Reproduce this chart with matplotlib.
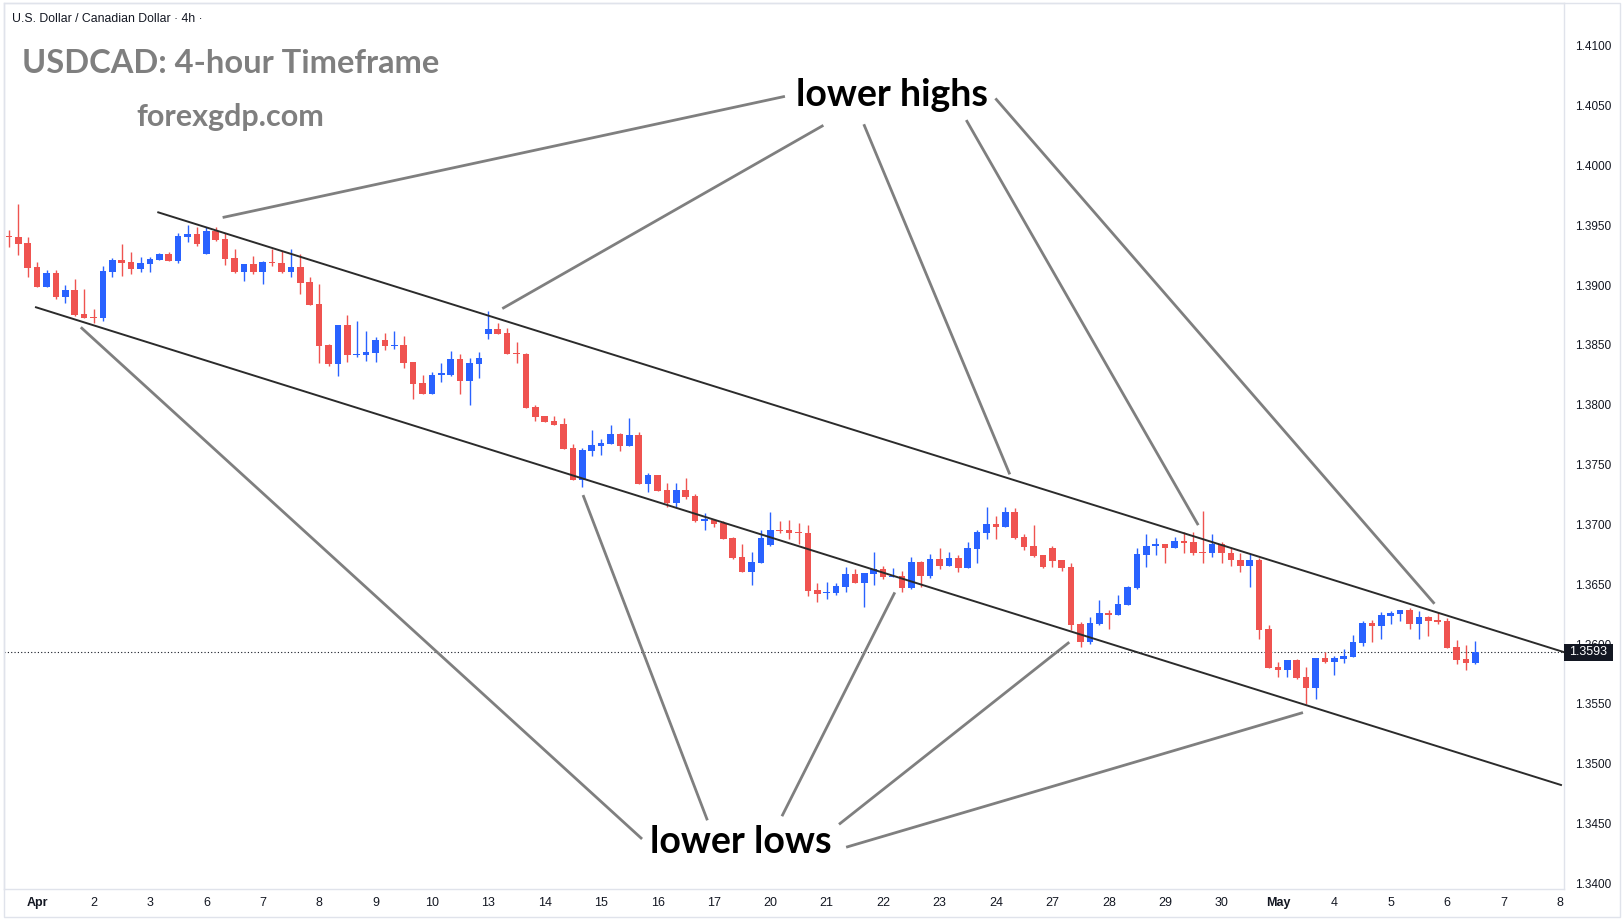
import numpy as np
import matplotlib

matplotlib.use("Agg")
import matplotlib.pyplot as plt
import matplotlib.transforms as mtransforms
from matplotlib.patches import Rectangle

W, H = 1624, 923
RED, BLUE = "#ef5350", "#2962ff"
INK, GREY, FRAME = "#131722", "#7f7f7f", "#e0e3eb"

# USDCAD 4h candles, 31 Mar 12:00 .. 6 May 12:00 (weekends skipped)
opens = [
    1.39410, 1.39401, 1.39351,
    1.39150, 1.38986, 1.39100, 1.38903, 1.38958, 1.38758,
    1.38733, 1.38727, 1.39111, 1.39209, 1.39192, 1.39137,
    1.39178, 1.39209, 1.39259, 1.39203, 1.39404, 1.39426,
    1.39262, 1.39451, 1.39384, 1.39226, 1.39111, 1.39176,
    1.39111, 1.39195, 1.39184, 1.39111, 1.39150, 1.39025,
    1.38841, 1.38499, 1.38343, 1.38666, 1.38415, 1.38418,
    1.38435, 1.38541, 1.38493, 1.38499, 1.38357, 1.38181,
    1.38092, 1.38251, 1.38251, 1.38379, 1.38201, 1.38343,
    1.38593, 1.38630, 1.38599, 1.38432, 1.38426, 1.37981,
    1.37906, 1.37864, 1.37839, 1.37638, 1.37371, 1.37616,
    1.37658, 1.37672, 1.37755, 1.37658, 1.37747, 1.37340,
    1.37416, 1.37288, 1.37182, 1.37288, 1.37237, 1.37031,
    1.37037, 1.37015, 1.36884, 1.36725, 1.36603, 1.36681,
    1.36831, 1.36953, 1.36953, 1.36937, 1.36931, 1.36452,
    1.36427, 1.36427, 1.36480, 1.36586, 1.36513, 1.36589,
    1.36628, 1.36564, 1.36569, 1.36472, 1.36686, 1.36569,
    1.36711, 1.36653, 1.36719, 1.36639, 1.36797, 1.36931,
    1.37003, 1.36981, 1.37104, 1.36895, 1.36820, 1.36745,
    1.36803, 1.36703, 1.36644, 1.36168, 1.36020, 1.36171,
    1.36260, 1.36246, 1.36330, 1.36469, 1.36747, 1.36820,
    1.36836, 1.36806, 1.36861, 1.36853, 1.36770, 1.36758,
    1.36836, 1.36758, 1.36700, 1.36650, 1.36700, 1.36126,
    1.35809, 1.35786, 1.35867, 1.35725, 1.35636, 1.35884,
    1.35851, 1.35876, 1.35895, 1.36012, 1.36176, 1.36154,
    1.36238, 1.36254, 1.36285, 1.36171, 1.36226, 1.36204,
    1.36193, 1.35976, 1.35876, 1.35845,
]
highs = [
    1.39460, 1.39677, 1.39401,
    1.39192, 1.39125, 1.39125, 1.39000, 1.39050, 1.38967,
    1.38800, 1.39159, 1.39223, 1.39343, 1.39276, 1.39234,
    1.39234, 1.39267, 1.39276, 1.39432, 1.39501, 1.39482,
    1.39482, 1.39482, 1.39437, 1.39301, 1.39176, 1.39242,
    1.39198, 1.39304, 1.39284, 1.39301, 1.39256, 1.39067,
    1.39009, 1.38507, 1.38666, 1.38750, 1.38699, 1.38616,
    1.38568, 1.38596, 1.38616, 1.38577, 1.38360, 1.38245,
    1.38273, 1.38346, 1.38449, 1.38424, 1.38387, 1.38440,
    1.38783, 1.38683, 1.38638, 1.38524, 1.38435, 1.37995,
    1.37906, 1.37906, 1.37889, 1.37672, 1.37638, 1.37789,
    1.37713, 1.37830, 1.37764, 1.37892, 1.37769, 1.37429,
    1.37416, 1.37343, 1.37343, 1.37388, 1.37254, 1.37093,
    1.37037, 1.37031, 1.36892, 1.36836, 1.36770, 1.36953,
    1.37104, 1.37031, 1.37037, 1.37015, 1.36995, 1.36508,
    1.36519, 1.36508, 1.36644, 1.36628, 1.36594, 1.36770,
    1.36653, 1.36636, 1.36611, 1.36725, 1.36697, 1.36753,
    1.36803, 1.36770, 1.36745, 1.36853, 1.36953, 1.37148,
    1.37070, 1.37148, 1.37137, 1.36920, 1.36995, 1.36745,
    1.36820, 1.36703, 1.36675, 1.36185, 1.36227, 1.36369,
    1.36285, 1.36410, 1.36485, 1.36800, 1.36920, 1.36886,
    1.36836, 1.36895, 1.36937, 1.36937, 1.37112, 1.36920,
    1.36853, 1.36800, 1.36760, 1.36750, 1.36720, 1.36160,
    1.35851, 1.35867, 1.35878, 1.35809, 1.35884, 1.35934,
    1.35901, 1.35956, 1.36076, 1.36190, 1.36201, 1.36268,
    1.36274, 1.36285, 1.36302, 1.36279, 1.36235, 1.36268,
    1.36215, 1.36034, 1.35993, 1.36026,
]
lows = [
    1.39320, 1.39251, 1.39070,
    1.38981, 1.38986, 1.38880, 1.38847, 1.38741, 1.38727,
    1.38686, 1.38702, 1.39070, 1.39078, 1.39095, 1.39109,
    1.39111, 1.39209, 1.39201, 1.39187, 1.39362, 1.39329,
    1.39262, 1.39370, 1.39167, 1.39103, 1.39036, 1.39095,
    1.39011, 1.39159, 1.39103, 1.39070, 1.38922, 1.38833,
    1.38351, 1.38326, 1.38243, 1.38360, 1.38401, 1.38368,
    1.38360, 1.38457, 1.38463, 1.38309, 1.38050, 1.38092,
    1.38092, 1.38192, 1.38240, 1.38092, 1.38000, 1.38223,
    1.38552, 1.38588, 1.38426, 1.38351, 1.37975, 1.37867,
    1.37853, 1.37828, 1.37627, 1.37371, 1.37315, 1.37574,
    1.37580, 1.37672, 1.37616, 1.37658, 1.37340, 1.37274,
    1.37282, 1.37143, 1.37148, 1.37210, 1.37023, 1.36953,
    1.36981, 1.36878, 1.36708, 1.36603, 1.36494, 1.36681,
    1.36817, 1.36931, 1.36881, 1.36836, 1.36402, 1.36355,
    1.36380, 1.36413, 1.36438, 1.36513, 1.36313, 1.36494,
    1.36544, 1.36564, 1.36438, 1.36458, 1.36475, 1.36555,
    1.36630, 1.36653, 1.36605, 1.36633, 1.36680, 1.36881,
    1.36881, 1.36981, 1.36875, 1.36786, 1.36731, 1.36633,
    1.36647, 1.36614, 1.36118, 1.35979, 1.35998, 1.36157,
    1.36129, 1.36246, 1.36324, 1.36458, 1.36647, 1.36747,
    1.36675, 1.36800, 1.36764, 1.36742, 1.36680, 1.36731,
    1.36680, 1.36650, 1.36600, 1.36480, 1.36043, 1.35803,
    1.35725, 1.35725, 1.35708, 1.35500, 1.35544, 1.35842,
    1.35745, 1.35842, 1.35890, 1.35984, 1.36020, 1.36043,
    1.36168, 1.36193, 1.36126, 1.36043, 1.36071, 1.36171,
    1.35965, 1.35834, 1.35786, 1.35837,
]
closes = [
    1.39400, 1.39345, 1.39145,
    1.38986, 1.39100, 1.38903, 1.38958, 1.38749, 1.38727,
    1.38727, 1.39117, 1.39209, 1.39187, 1.39137, 1.39184,
    1.39217, 1.39259, 1.39203, 1.39409, 1.39426, 1.39343,
    1.39451, 1.39379, 1.39220, 1.39111, 1.39176, 1.39111,
    1.39192, 1.39181, 1.39111, 1.39150, 1.39020, 1.38833,
    1.38493, 1.38343, 1.38666, 1.38418, 1.38426, 1.38440,
    1.38541, 1.38493, 1.38499, 1.38351, 1.38176, 1.38092,
    1.38245, 1.38262, 1.38379, 1.38201, 1.38346, 1.38390,
    1.38630, 1.38593, 1.38426, 1.38426, 1.37975, 1.37900,
    1.37858, 1.37833, 1.37633, 1.37371, 1.37622, 1.37663,
    1.37680, 1.37755, 1.37658, 1.37747, 1.37340, 1.37416,
    1.37282, 1.37182, 1.37288, 1.37232, 1.37031, 1.37042,
    1.37006, 1.36878, 1.36722, 1.36603, 1.36686, 1.36886,
    1.36953, 1.36942, 1.36931, 1.36925, 1.36447, 1.36419,
    1.36435, 1.36485, 1.36586, 1.36513, 1.36594, 1.36628,
    1.36564, 1.36572, 1.36472, 1.36686, 1.36569, 1.36711,
    1.36653, 1.36719, 1.36639, 1.36803, 1.36937, 1.37003,
    1.36981, 1.37104, 1.36884, 1.36814, 1.36739, 1.36647,
    1.36697, 1.36639, 1.36162, 1.36020, 1.36176, 1.36260,
    1.36246, 1.36335, 1.36477, 1.36753, 1.36820, 1.36836,
    1.36806, 1.36861, 1.36847, 1.36764, 1.36758, 1.36836,
    1.36758, 1.36700, 1.36650, 1.36700, 1.36118, 1.35803,
    1.35786, 1.35867, 1.35720, 1.35636, 1.35884, 1.35851,
    1.35884, 1.35901, 1.36018, 1.36176, 1.36154, 1.36243,
    1.36260, 1.36285, 1.36171, 1.36226, 1.36193, 1.36185,
    1.35968, 1.35867, 1.35845, 1.35930,
]

day_labels = ["Apr", "2", "3", "6", "7", "8", "9", "10", "13", "14", "15",
              "16", "17", "20", "21", "22", "23", "24", "27", "28", "29",
              "30", "May", "4", "5", "6", "7", "8"]
first_day_bar, bars_per_day = 3, 6
price_ticks = np.arange(1.3400, 1.41001, 0.0050)
last_price = 1.3593

# channel lines and annotation arrows, (bar index, price)
upper_channel = [(15.88, 1.39607), (165.46, 1.35932)]
lower_channel = [(2.87, 1.38814), (165.11, 1.34823)]
highs_text = (93.9, 1.40495)
highs_arrows = [
    [(82.55, 1.40576), (22.73, 1.39564)],
    [(86.64, 1.40334), (52.48, 1.38803)],
    [(90.94, 1.40343), (106.47, 1.37418)],
    [(101.84, 1.40378), (126.52, 1.36994)],
    [(104.94, 1.40559), (151.65, 1.36337)],
]
lows_text = (77.9, 1.34253)
lows_arrows = [
    [(67.35, 1.34372), (7.64, 1.38647)],
    [(74.30, 1.34528), (61.07, 1.37245)],
    [(82.23, 1.34562), (94.24, 1.36432)],
    [(88.30, 1.34494), (112.80, 1.36016)],
    [(89.06, 1.34303), (137.66, 1.35428)],
]

o, h, l, c = map(np.array, (opens, highs, lows, closes))
x = np.arange(len(o))
colors = np.where(c >= o, BLUE, RED)

fig = plt.figure(figsize=(W / 100, H / 100), dpi=100)
ax = fig.add_axes([4 / W, (H - 889) / H, 1560 / W, 886 / H])
ax.set_xlim(-0.53, 165.43)
ax.set_ylim(1.33954, 1.41356)

ax.vlines(x, l, h, color=colors, lw=1.0, zorder=2)
ax.bar(x, np.maximum(np.abs(c - o), 0.00002), bottom=np.minimum(o, c),
       width=0.7, color=colors, lw=0, zorder=3)

for (x0, y0), (x1, y1) in (upper_channel, lower_channel):
    ax.plot([x0, x1], [y0, y1], color="#2b2b2b", lw=1.4, zorder=4)
for (x0, y0), (x1, y1) in highs_arrows + lows_arrows:
    ax.plot([x0, x1], [y0, y1], color=GREY, lw=2.0, zorder=4,
            solid_capstyle="butt")

big = dict(ha="center", va="baseline", fontsize=27, fontweight="bold",
           color="black", family="Lato", zorder=6)
ax.text(*highs_text, "lower highs", **big)
ax.text(*lows_text, "lower lows", **big)

ax.axhline(last_price, color=INK, lw=0.8, ls=(0, (1, 2)), zorder=1)

# axes styling
for side in ("top", "left", "right", "bottom"):
    ax.spines[side].set_color(FRAME)
    ax.spines[side].set_linewidth(1.0)
ax.yaxis.tick_right()
ax.set_yticks(price_ticks)
ax.set_yticklabels([f"{p:.4f}" for p in price_ticks])
ax.set_xticks(first_day_bar + bars_per_day * np.arange(len(day_labels)))
ax.set_xticklabels(day_labels)
ax.tick_params(axis="y", length=0, pad=8, labelsize=8.5, labelcolor=INK)
ax.tick_params(axis="x", length=0, pad=6, labelsize=9, labelcolor=INK)
for lab in ax.get_yticklabels():
    lab.set_family("Liberation Sans")
for lab in ax.get_xticklabels():
    lab.set_family(["Liberation Sans Narrow", "Liberation Sans"])
    if lab.get_text() in ("Apr", "May"):
        lab.set_fontweight("bold")

# last price tag on the price scale (covers part of the 1.3600 label)
tr = mtransforms.blended_transform_factory(ax.transAxes, ax.transData)
ax.add_patch(Rectangle((1.0, last_price - 0.00068), 49 / 1560, 0.00136,
                       transform=tr, clip_on=False, fc=INK, ec="none",
                       zorder=7))
ax.text(1.0 + 24.5 / 1560, last_price, f"{last_price:.4f}", transform=tr,
        ha="center", va="center", color="white", fontsize=9,
        family="Liberation Sans", zorder=8)

# outer frame of the chart widget
fig.add_artist(Rectangle((4 / W, (H - 917) / H), 1616 / W, 914 / H,
                         transform=fig.transFigure, fill=False, ec=FRAME,
                         lw=1.0))

fig.text(12.5 / W, 1 - 22 / H, "U.S. Dollar / Canadian Dollar \u00b7 4h \u00b7",
         ha="left", va="baseline", fontsize=8.8, color=INK,
         family="Liberation Sans")
fig.text(22 / W, 1 - 73 / H, "USDCAD: 4-hour Timeframe", ha="left",
         va="baseline", fontsize=23.5, fontweight="bold", color=GREY,
         family="Lato")
fig.text(230 / W, 1 - 126 / H, "forexgdp.com", ha="center", va="baseline",
         fontsize=22, fontweight="bold", color=GREY, family="Lato")

fig.savefig("out.png", dpi=100, facecolor="white")
